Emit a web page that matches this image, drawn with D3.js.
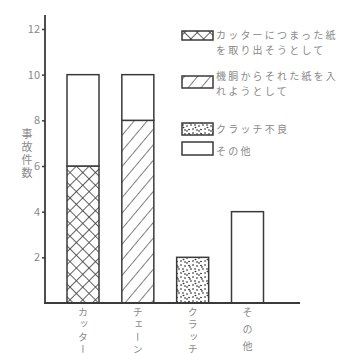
<!DOCTYPE html>
<html><head><meta charset="utf-8">
<script src="https://cdn.jsdelivr.net/npm/d3@7"></script>
<style>body{margin:0;background:#fff}svg{display:block}text{font-family:"Noto Sans CJK JP","Noto Sans",sans-serif;fill:#8a8a8a}.vt{writing-mode:vertical-rl;text-orientation:upright}</style>
</head><body><svg id="c" width="342" height="353"></svg>
<script>
const categories = ["カッター","チェーン","クラッチ","その他"];
const seriesNames = ["jam","feed","clutch","other"];
const jam    = [6,0,0,0];
const feed   = [0,8,0,0];
const clutch = [0,0,2,0];
const other  = [4,2,0,4];
const yTicks = [2,4,6,8,10,12];
const yLabel = "事故件数";
const legendLabels = [["カッターにつまった紙","を取り出そうとして"],["機胴からそれた紙を入","れようとして"],["クラッチ不良"],["その他"]];

const svg = d3.select("#c");
const defs = svg.append("defs");
const ink = "#3a3a3a";
const p1 = defs.append("pattern").attr("id","cross").attr("patternUnits","userSpaceOnUse").attr("width",9).attr("height",9).attr("patternTransform","rotate(45)");
p1.append("line").attr("x1",0).attr("y1",0).attr("x2",0).attr("y2",9).attr("stroke",ink).attr("stroke-width",1.6);
p1.append("line").attr("x1",0).attr("y1",0).attr("x2",9).attr("y2",0).attr("stroke",ink).attr("stroke-width",1.6);
const p2 = defs.append("pattern").attr("id","hatch").attr("patternUnits","userSpaceOnUse").attr("width",10).attr("height",10).attr("patternTransform","rotate(40)");
p2.append("line").attr("x1",0).attr("y1",0).attr("x2",0).attr("y2",10).attr("stroke",ink).attr("stroke-width",1.3);
const p3 = defs.append("pattern").attr("id","dots").attr("patternUnits","userSpaceOnUse").attr("width",12).attr("height",12);
[[1,1],[5,2],[9,1.5],[3,5],[7,6],[11,5],[1,9],[5,10],[9,9.5],[3.5,7.5],[10,3],[7,11]].forEach(d=>{
  p3.append("ellipse").attr("cx",d[0]).attr("cy",d[1]).attr("rx",1).attr("ry",0.7).attr("fill",ink);
});
const fills = {jam:"url(#cross)",feed:"url(#hatch)",clutch:"url(#dots)",other:"#fff"};

const x = d3.scalePoint().domain(categories).range([83,247.5]);
const bw = 32;
const y = d3.scaleLinear().domain([0,12]).range([303,29]);

const table = categories.map((c,i)=>({cat:c,jam:jam[i],feed:feed[i],clutch:clutch[i],other:other[i]}));
const stack = d3.stack().keys(seriesNames)(table);

const g = svg.append("g");
stack.forEach(layer=>{
  g.selectAll(null).data(layer.filter(d=>d[1]>d[0])).enter().append("rect")
   .attr("x",d=>x(d.data.cat)-bw/2).attr("width",bw)
   .attr("y",d=>y(d[1])).attr("height",d=>y(d[0])-y(d[1]))
   .attr("fill",fills[layer.key]).attr("stroke",ink).attr("stroke-width",1.5);
});

const ya = svg.append("g").attr("transform","translate(45,0)")
  .call(d3.axisLeft(y).tickValues(yTicks).tickSize(3).tickPadding(2).tickFormat(d3.format("d")));
ya.select(".domain").remove();
ya.selectAll("line").attr("stroke",ink).attr("stroke-width",1.5);
ya.selectAll("text").style("font-size","11px").style("fill","#8a8a8a");
svg.append("line").attr("x1",45).attr("x2",45).attr("y1",15).attr("y2",303).attr("stroke",ink).attr("stroke-width",1.8);
svg.append("line").attr("x1",44).attr("x2",300).attr("y1",303).attr("y2",303).attr("stroke",ink).attr("stroke-width",1.8);

// y label, one character per text, stacked vertically
yLabel.split("").forEach((ch,i)=>{
  svg.append("text").attr("class","vt").attr("x",27).attr("y",128+i*13)
    .style("font-size","11px").text(ch);
});

// x labels, one character per text, stacked vertically
categories.forEach(c=>{
  const step = c.length >= 4 ? 12.5 : 17;
  c.split("").forEach((ch,i)=>{
    svg.append("text").attr("class","vt").attr("x",x(c)).attr("y",307+i*step)
      .style("font-size","10px").text(ch);
  });
});

const legY = [31,76,123,142];
const legH = [9,12,12,13];
const legFill = [fills.jam,fills.feed,fills.clutch,fills.other];
const textY = [39,80,133,155];
legendLabels.forEach((lines,i)=>{
  svg.append("rect").attr("x",182).attr("y",legY[i]).attr("width",31).attr("height",legH[i])
    .attr("fill",legFill[i]).attr("stroke",ink).attr("stroke-width",1.5);
  lines.forEach((s,j)=>{
    svg.append("text").attr("x",216).attr("y",textY[i]+j*15)
      .style("font-size","10px").style("letter-spacing","2.2px").text(s);
  });
});
</script></body></html>
